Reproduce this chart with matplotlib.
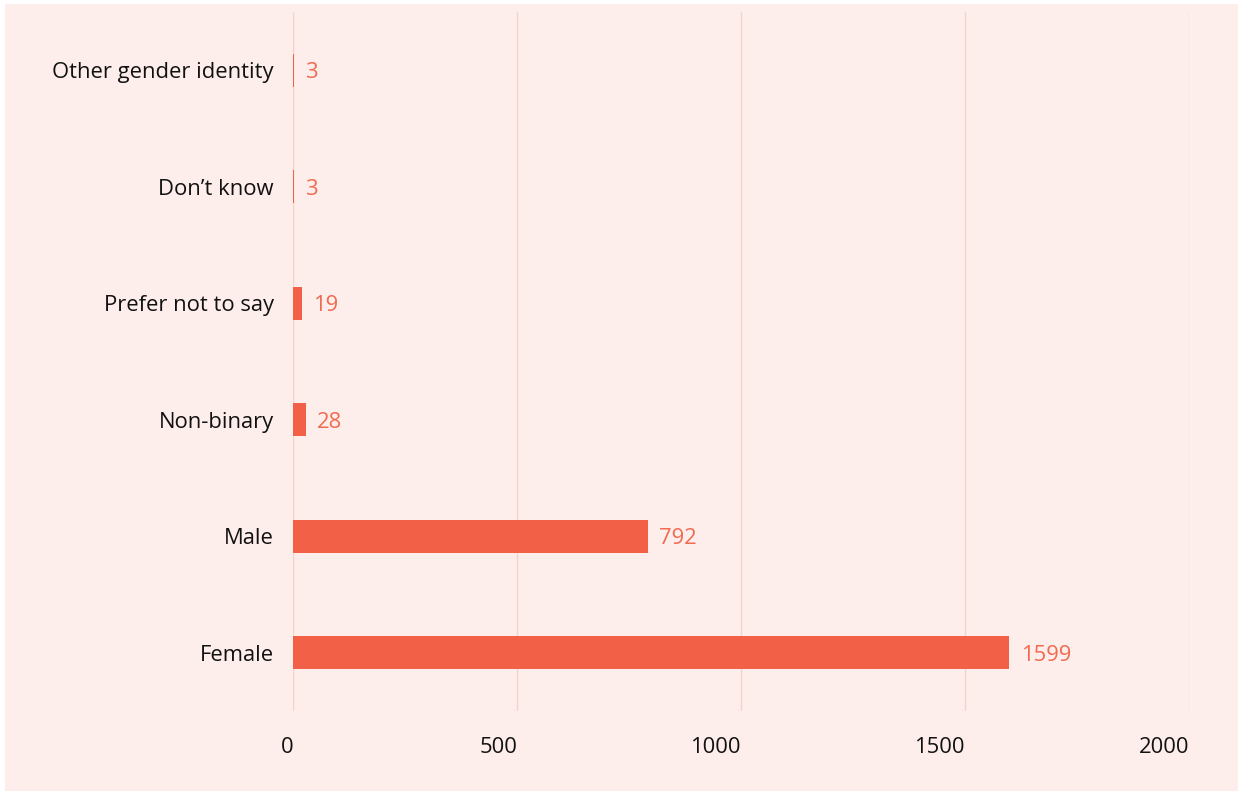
import matplotlib.pyplot as plt
from matplotlib.patches import Rectangle

# data
categories = ['Female', 'Male', 'Non-binary', 'Prefer not to say', "Don\u2019t know", 'Other gender identity']
counts = [1599, 792, 28, 19, 3, 3]
xticks = [0, 500, 1000, 1500, 2000]

plt.rcParams['font.family'] = ['Open Sans', 'DejaVu Sans']

bg = '#FDEEEB'
bar_color = '#F26047'
label_color = '#F26A50'

fig = plt.figure(figsize=(12.43, 7.96), dpi=100, facecolor='white')
# pink panel with a thin white border, drawn behind the axes
fig.patches.append(Rectangle((5 / 1243, 5 / 796), 1233 / 1243, 787 / 796,
                             transform=fig.transFigure, facecolor=bg,
                             edgecolor='none', zorder=-10))

ax = fig.add_axes([293 / 1243, 1 - 711 / 796, (1189 - 293) / 1243, (711 - 12) / 796])
ax.set_facecolor('none')

y = range(len(categories))
ax.barh(y, counts, height=0.28, color=bar_color, zorder=3)
for i, v in enumerate(counts):
    ax.text(v + 25, i, str(v), va='center_baseline', ha='left', color=label_color, fontsize=15.8)

ax.set_xlim(0, 2000)
ax.set_ylim(-0.5, len(categories) - 0.5)
ax.set_xticks(xticks)
ax.set_xticklabels([str(t) for t in xticks], ha='right')
ax.set_yticks(list(y))
ax.set_yticklabels(categories)
ax.tick_params(axis='both', length=0, labelsize=15.8, colors='#111111')
ax.tick_params(axis='x', pad=19)
ax.tick_params(axis='y', pad=14)

for s in ax.spines.values():
    s.set_visible(False)
ax.grid(axis='x', color='#F6D3C9', linewidth=1, zorder=0)
ax.axvline(0, color='#F7C9BA', linewidth=1.5, zorder=1)

plt.savefig('out.png', dpi=100, facecolor='white')
